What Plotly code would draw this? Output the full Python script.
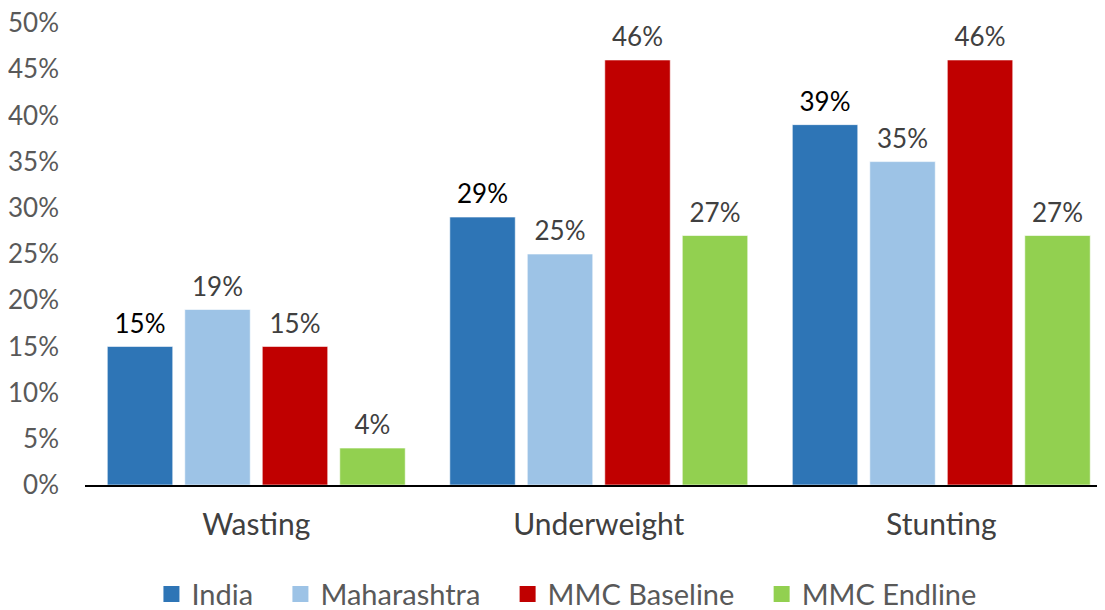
import plotly.graph_objects as go

categories = ["Wasting", "Underweight", "Stunting"]
series_names = ["India", "Maharashtra", "MMC Baseline", "MMC Endline"]
india = [0.15, 0.29, 0.39]
maharashtra = [0.19, 0.25, 0.35]
mmc_baseline = [0.15, 0.46, 0.46]
mmc_endline = [0.04, 0.27, 0.27]
y_ticks = [0, 0.05, 0.10, 0.15, 0.20, 0.25, 0.30, 0.35, 0.40, 0.45, 0.50]

colors = ["#2E75B6", "#9DC3E6", "#C00000", "#92D050"]
label_colors = ["#000000", "#404040", "#404040", "#404040"]
values = [india, maharashtra, mmc_baseline, mmc_endline]

FONT = "Lato, 'Open Sans', sans-serif"
GAP = 0.095
NBSP = "\u00a0"

fig = go.Figure()
for name, vals, c in zip(series_names, values, colors):
    fig.add_trace(go.Bar(
        name=name, x=categories, y=vals, offsetgroup=name,
        marker=dict(color=c, line=dict(color="rgba(255,255,255,0.6)", width=1)),
        showlegend=False, hoverinfo="skip",
    ))
# data labels, grouped the same way as the bars
for name, vals, lc in zip(series_names, values, label_colors):
    fig.add_trace(go.Scatter(
        x=categories, y=vals, offsetgroup=name,
        mode="markers+text",
        marker=dict(size=10, opacity=0),
        text=[f"{round(v*100)}%" for v in vals],
        textposition="top center",
        textfont=dict(family=FONT, size=26, color=lc),
        cliponaxis=False, showlegend=False, hoverinfo="skip",
    ))
# legend entries with larger square swatches
for i, (name, c) in enumerate(zip(series_names, colors)):
    pad = NBSP * 3 if i < len(series_names) - 1 else ""
    fig.add_trace(go.Scatter(
        x=[None], y=[None], name=name + pad, offsetgroup=name,
        mode="markers",
        marker=dict(symbol="square", size=18, color=c),
        showlegend=True, hoverinfo="skip",
    ))

fig.update_layout(
    barmode="group",
    bargap=GAP,
    bargroupgap=0.155,
    scattermode="group",
    scattergap=GAP,
    width=1105, height=610,
    margin=dict(l=77, r=8, t=15, b=133, autoexpand=False),
    paper_bgcolor="white", plot_bgcolor="white",
    font=dict(family=FONT, color="#595959"),
    showlegend=True,
    legend=dict(
        orientation="h", x=0.472, xanchor="center", y=-0.236, yanchor="middle",
        font=dict(family=FONT, size=29, color="#595959"),
        itemwidth=30, traceorder="normal",
    ),
)
fig.update_yaxes(
    range=[0, 0.5], tickvals=y_ticks, tickformat=".0%",
    showgrid=False, zeroline=False, showline=False,
    tickfont=dict(family=FONT, size=26, color="#595959"),
    ticklabelstandoff=25, ticklabeloverflow="allow", automargin=False,
)
fig.update_xaxes(
    range=[-0.5, 2.478],
    showline=True, linecolor="#000000", linewidth=1.5,
    showgrid=False, ticks="",
    tickfont=dict(family=FONT, size=30, color="#404040"),
    ticklabelstandoff=12, automargin=False,
)
fig.write_html("out.html")
